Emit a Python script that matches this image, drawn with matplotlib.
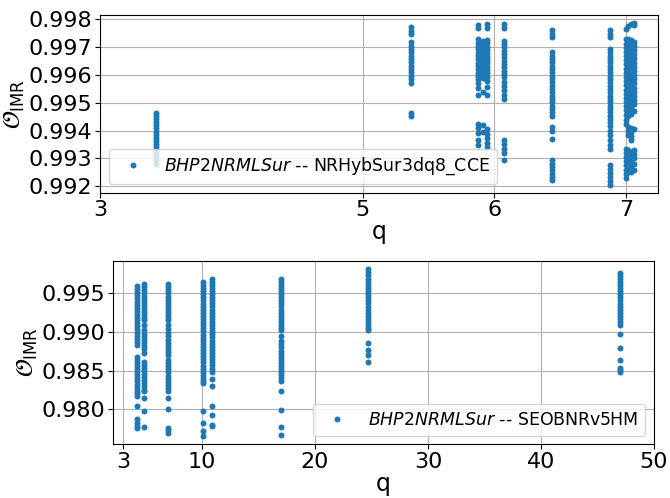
import numpy as np
import matplotlib
matplotlib.use('Agg')
import matplotlib.pyplot as plt
from matplotlib.ticker import MultipleLocator

# ---- top panel: BHP2NRMLSur vs NRHybSur3dq8_CCE ----
q_top = [3.43, 5.366, 5.875, 5.91, 5.945, 6.074, 6.44, 6.876, 7.0, 7.02, 7.04, 7.06]

ov_q343 = [0.99462, 0.99452, 0.99441, 0.99430, 0.99419, 0.99408, 0.99397, 0.99386, 0.99375,
           0.99364, 0.99353, 0.99342, 0.99331, 0.99320, 0.99306, 0.99293, 0.99282]
ov_q537 = [0.99771, 0.99759, 0.99747, 0.99718, 0.99706, 0.99694, 0.99682, 0.99670, 0.99658,
           0.99646, 0.99634, 0.99622, 0.99610, 0.99598, 0.99585, 0.99572, 0.99462, 0.99453]
ov_q588 = [0.99780, 0.99768, 0.99728, 0.99716, 0.99704, 0.99692, 0.99680, 0.99668, 0.99656,
           0.99644, 0.99632, 0.99620, 0.99608, 0.99596, 0.99584, 0.99572, 0.99552, 0.99528,
           0.99425, 0.99410, 0.99392, 0.99365, 0.99350]
ov_q591 = [0.99724, 0.99710, 0.99698, 0.99686, 0.99674, 0.99662, 0.99650, 0.99638, 0.99626,
           0.99614, 0.99602, 0.99590, 0.99540, 0.99420, 0.99395]
ov_q595 = [0.99782, 0.99770, 0.99726, 0.99714, 0.99702, 0.99690, 0.99678, 0.99666, 0.99654,
           0.99642, 0.99630, 0.99618, 0.99606, 0.99594, 0.99580, 0.99558, 0.99530, 0.99405,
           0.99388, 0.99372, 0.99355, 0.99342]
ov_q607 = [0.99782, 0.99768, 0.99724, 0.99712, 0.99700, 0.99688, 0.99676, 0.99664, 0.99652,
           0.99640, 0.99628, 0.99616, 0.99604, 0.99592, 0.99575, 0.99562, 0.99548, 0.99530,
           0.99515, 0.99368, 0.99352, 0.99335, 0.99318, 0.99296]
ov_q644 = [0.99761, 0.99748, 0.99735, 0.99682, 0.99670, 0.99658, 0.99646, 0.99634, 0.99622,
           0.99610, 0.99598, 0.99586, 0.99574, 0.99562, 0.99550, 0.99538, 0.99526, 0.99514,
           0.99502, 0.99490, 0.99478, 0.99466, 0.99453, 0.99412, 0.99398, 0.99371, 0.99294,
           0.99282, 0.99270, 0.99258, 0.99246, 0.99234, 0.99222]
ov_q688 = [0.99761, 0.99748, 0.99735, 0.99694, 0.99682, 0.99670, 0.99658, 0.99646, 0.99634,
           0.99622, 0.99610, 0.99598, 0.99586, 0.99574, 0.99562, 0.99550, 0.99538, 0.99526,
           0.99514, 0.99502, 0.99490, 0.99478, 0.99466, 0.99454, 0.99442, 0.99430, 0.99418,
           0.99400, 0.99385, 0.99368, 0.99350, 0.99335, 0.99276, 0.99262, 0.99248, 0.99234,
           0.99220, 0.99206]
ov_q700 = [0.99765, 0.99728, 0.99713, 0.99698, 0.99683, 0.99668, 0.99653, 0.99638, 0.99623,
           0.99608, 0.99593, 0.99578, 0.99563, 0.99548, 0.99533, 0.99518, 0.99503, 0.99488,
           0.99473, 0.99458, 0.99440, 0.99425, 0.99335, 0.99320, 0.99305, 0.99290, 0.99275,
           0.99260, 0.99245, 0.99230]
ov_q702 = [0.99775, 0.99730, 0.99716, 0.99701, 0.99686, 0.99671, 0.99656, 0.99641, 0.99626,
           0.99611, 0.99596, 0.99581, 0.99566, 0.99551, 0.99536, 0.99521, 0.99506, 0.99491,
           0.99476, 0.99452, 0.99415, 0.99400, 0.99385, 0.99330, 0.99300, 0.99270, 0.99250]
ov_q704 = [0.99782, 0.99726, 0.99711, 0.99696, 0.99681, 0.99666, 0.99651, 0.99636, 0.99621,
           0.99606, 0.99591, 0.99576, 0.99561, 0.99546, 0.99531, 0.99516, 0.99501, 0.99486,
           0.99471, 0.99460, 0.99410, 0.99395, 0.99380, 0.99365, 0.99325, 0.99310, 0.99295,
           0.99280, 0.99265, 0.99250]
ov_q706 = [0.99787, 0.99780, 0.99720, 0.99705, 0.99690, 0.99675, 0.99660, 0.99645, 0.99630,
           0.99615, 0.99600, 0.99585, 0.99570, 0.99555, 0.99540, 0.99525, 0.99510, 0.99495,
           0.99470, 0.99405, 0.99330, 0.99315, 0.99300, 0.99280, 0.99260]
ov_top = [ov_q343, ov_q537, ov_q588, ov_q591, ov_q595, ov_q607, ov_q644, ov_q688,
          ov_q700, ov_q702, ov_q704, ov_q706]

# ---- bottom panel: BHP2NRMLSur vs SEOBNRv5HM ----
q_bot = [4.24, 4.82, 6.95, 10.09, 10.9, 17.0, 24.65, 46.96]

ob_q42 = [0.99590, 0.99550, 0.99510, 0.99470, 0.99430, 0.99390, 0.99350, 0.99310, 0.99270,
          0.99230, 0.99190, 0.99150, 0.99110, 0.99070, 0.99030, 0.98990, 0.98950, 0.98910,
          0.98870, 0.98830, 0.98680, 0.98640, 0.98600, 0.98560, 0.98520, 0.98480, 0.98440,
          0.98400, 0.98360, 0.98320, 0.98280, 0.98240, 0.98212, 0.98169, 0.98042, 0.97871,
          0.97830, 0.97790, 0.97765]
ob_q48 = [0.99615, 0.99575, 0.99535, 0.99495, 0.99455, 0.99415, 0.99375, 0.99335, 0.99295,
          0.99255, 0.99215, 0.99175, 0.99147, 0.99083, 0.99020, 0.98977, 0.98934, 0.98894,
          0.98854, 0.98814, 0.98774, 0.98722, 0.98616, 0.98576, 0.98536, 0.98496, 0.98456,
          0.98416, 0.98376, 0.98336, 0.98296, 0.98256, 0.98233, 0.98148, 0.97986, 0.97778]
ob_q70 = [0.99615, 0.99575, 0.99535, 0.99495, 0.99455, 0.99415, 0.99375, 0.99335, 0.99295,
          0.99255, 0.99215, 0.99175, 0.99147, 0.99083, 0.99040, 0.98990, 0.98950, 0.98900,
          0.98860, 0.98820, 0.98780, 0.98740, 0.98701, 0.98637, 0.98597, 0.98557, 0.98517,
          0.98477, 0.98437, 0.98397, 0.98357, 0.98317, 0.98277, 0.98233, 0.98148, 0.98007,
          0.97765, 0.97730, 0.97701]
ob_q101 = [0.99645, 0.99605, 0.99565, 0.99525, 0.99485, 0.99445, 0.99405, 0.99365, 0.99325,
           0.99285, 0.99245, 0.99205, 0.99165, 0.99125, 0.99085, 0.99045, 0.99005, 0.98965,
           0.98925, 0.98885, 0.98845, 0.98805, 0.98765, 0.98725, 0.98685, 0.98645, 0.98605,
           0.98565, 0.98525, 0.98485, 0.98445, 0.98405, 0.98365, 0.98339, 0.97986, 0.97829,
           0.97722, 0.97659]
ob_q109 = [0.99687, 0.99647, 0.99607, 0.99567, 0.99527, 0.99487, 0.99447, 0.99407, 0.99367,
           0.99327, 0.99287, 0.99247, 0.99207, 0.99167, 0.99127, 0.99087, 0.99047, 0.99007,
           0.98967, 0.98927, 0.98887, 0.98847, 0.98807, 0.98767, 0.98727, 0.98687, 0.98647,
           0.98607, 0.98567, 0.98527, 0.98488, 0.98395, 0.98297, 0.98042, 0.97927, 0.97800,
           0.97787]
ob_q170 = [0.99687, 0.99647, 0.99607, 0.99567, 0.99527, 0.99487, 0.99447, 0.99407, 0.99367,
           0.99327, 0.99287, 0.99247, 0.99207, 0.99167, 0.99127, 0.99087, 0.99050, 0.99020,
           0.98947, 0.98879, 0.98839, 0.98799, 0.98759, 0.98719, 0.98679, 0.98639, 0.98599,
           0.98559, 0.98519, 0.98479, 0.98439, 0.98399, 0.98361, 0.98241, 0.97999, 0.97778,
           0.97672]
ob_q247 = [0.99806, 0.99766, 0.99726, 0.99686, 0.99646, 0.99606, 0.99566, 0.99526, 0.99486,
           0.99446, 0.99406, 0.99366, 0.99326, 0.99286, 0.99246, 0.99206, 0.99166, 0.99126,
           0.99086, 0.99046, 0.99020, 0.98850, 0.98764, 0.98700, 0.98616]
ob_q470 = [0.99764, 0.99724, 0.99684, 0.99644, 0.99604, 0.99564, 0.99524, 0.99484, 0.99444,
           0.99404, 0.99364, 0.99324, 0.99284, 0.99244, 0.99204, 0.99164, 0.99124, 0.99083,
           0.98977, 0.98786, 0.98637, 0.98531, 0.98510, 0.98488]
ov_bot = [ob_q42, ob_q48, ob_q70, ob_q101, ob_q109, ob_q170, ob_q247, ob_q470]

top_ticks = [3, 5, 6, 7]
bot_ticks = [3, 10, 20, 30, 40, 50]


def flatten(qs, groups):
    x, y = [], []
    for q, vals in zip(qs, groups):
        x += [q] * len(vals)
        y += vals
    return np.array(x), np.array(y)


fig = plt.figure(figsize=(6.7, 4.98), dpi=100)
ax1 = fig.add_axes([0.149, 0.613, 0.833, 0.357])
ax2 = fig.add_axes([0.168, 0.108, 0.808, 0.368])

ylab = r'$\mathcal{O}_{\rm IMR}$'

x, y = flatten(q_top, ov_top)
ax1.plot(x, y, 'o', ms=4.3, mew=0, color='#1f77b4',
         label=r'$\it{BHP2NRMLSur}$ -- NRHybSur3dq8_CCE')
ax1.set_xlim(3, 7.244)
ax1.set_xticks(top_ticks)
ax1.yaxis.set_major_locator(MultipleLocator(0.001))
ax1.set_xlabel('q', fontsize=17, labelpad=0)
ax1.set_ylabel(ylab, fontsize=17, labelpad=1)
ax1.legend(loc='lower left', fontsize=12.5)

x, y = flatten(q_bot, ov_bot)
ax2.plot(x, y, 'o', ms=4.3, mew=0, color='#1f77b4',
         label=r'$\it{BHP2NRMLSur}$ -- SEOBNRv5HM')
ax2.set_xlim(2.08, 50)
ax2.set_xticks(bot_ticks)
ax2.yaxis.set_major_locator(MultipleLocator(0.005))
ax2.set_xlabel('q', fontsize=17, labelpad=0)
ax2.set_ylabel(ylab, fontsize=17, labelpad=1)
ax2.legend(loc='lower right', fontsize=12.5)

for ax in (ax1, ax2):
    ax.grid(True)
    ax.tick_params(labelsize=16, pad=2)

fig.savefig('out.png', dpi=100)
